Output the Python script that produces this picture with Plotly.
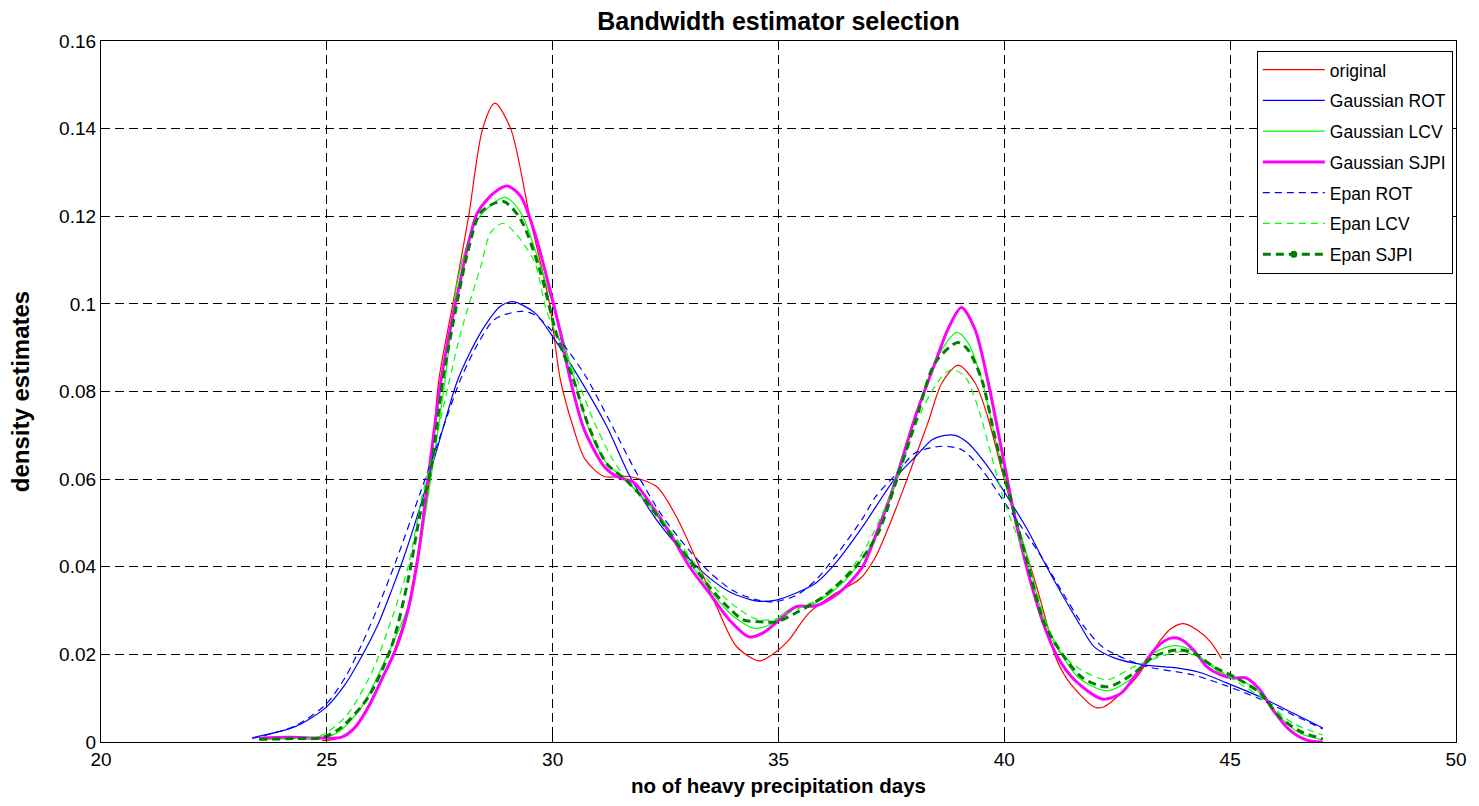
import plotly.graph_objects as go

# --- density estimates: x = number of heavy precipitation days ---
orig_x = [24.9, 25.3, 25.6, 25.9, 26.2, 26.5, 26.8, 27.0, 27.3, 27.48, 27.79, 28.14, 28.45, 28.72, 29.07,
          29.49, 29.93, 30.17, 30.45, 30.72, 31.14, 31.7, 32.3, 32.74, 33.18, 33.63, 34.07, 34.57,
          34.95, 35.23, 35.67, 36.27, 36.8, 37.15, 37.59, 38.03, 38.31, 38.62, 38.98, 39.35, 39.63,
          39.94, 40.23, 40.67, 40.96, 41.1, 41.4, 41.99, 42.2, 42.5, 42.94, 43.46, 43.68, 43.97,
          44.26, 44.56, 44.81]
orig_y = [0.0003, 0.001, 0.003, 0.008, 0.014, 0.021, 0.031, 0.042, 0.062, 0.0827, 0.1, 0.12, 0.14,
          0.1458, 0.14, 0.12, 0.1, 0.0827, 0.072, 0.0645, 0.0606, 0.0606, 0.0583, 0.0514, 0.0416,
          0.0309, 0.0218, 0.0185, 0.0206, 0.0233, 0.0294, 0.034, 0.0372, 0.0423, 0.053, 0.0651,
          0.0729, 0.082, 0.086, 0.082, 0.0743, 0.0622, 0.0514, 0.037, 0.0263, 0.0203, 0.0142, 0.008,
          0.008, 0.0103, 0.0149, 0.0233, 0.0258, 0.027, 0.0256, 0.0229, 0.019]

gauss_rot_x = [23.35, 24.3, 24.97, 25.41, 25.77, 26.14, 26.43, 26.74, 27.09, 27.5, 27.9, 28.41, 28.85,
               29.11, 29.6, 30.04, 30.61, 31.2, 31.71, 32.3, 32.9, 33.34, 33.91, 34.5, 34.95, 35.39,
               35.83, 36.27, 36.86, 37.59, 38.03, 38.4, 38.69, 38.91, 39.19, 39.63, 40.01, 40.51,
               40.89, 41.26, 41.7, 41.99, 42.43, 43.09, 43.82, 44.35, 44.92, 45.66, 46.39, 47.05]
gauss_rot_y = [0.001, 0.0035, 0.0078, 0.0132, 0.0195, 0.027, 0.0345, 0.0432, 0.0545, 0.069, 0.0827,
               0.0935, 0.0995, 0.1005, 0.098, 0.0919, 0.0827, 0.072, 0.0606, 0.0507, 0.0432, 0.0386,
               0.0343, 0.0322, 0.0324, 0.034, 0.0363, 0.0409, 0.0491, 0.0603, 0.0651, 0.069, 0.07, 0.07,
               0.0683, 0.0629, 0.0569, 0.0485, 0.0409, 0.034, 0.0263, 0.0217, 0.0192, 0.0176, 0.0169,
               0.0158, 0.0135, 0.0103, 0.0066, 0.0032]

gauss_lcv_x = [23.5, 24.3, 24.9, 25.26, 25.77, 26.36, 26.8, 27.09, 27.3, 27.62, 27.9, 28.34, 28.94,
               29.29, 29.73, 30.17, 30.48, 30.8, 31.2, 31.6, 32.1, 32.6, 33.1, 33.5, 33.91, 34.44,
               34.79, 35.23, 35.83, 36.49, 37.21, 37.59, 38.18, 38.62, 38.95, 39.19, 39.5, 39.79,
               40.07, 40.51, 40.89, 41.62, 42.28, 42.87, 43.31, 43.75, 44.13, 44.41, 44.79, 45.22,
               45.66, 46.1, 46.54, 47.05]
gauss_lcv_y = [0.0006, 0.0008, 0.0009, 0.0023, 0.008, 0.0203, 0.0309, 0.0462, 0.06, 0.0827, 0.1056,
               0.1193, 0.1243, 0.1209, 0.1086, 0.0942, 0.0827, 0.0715, 0.0635, 0.06, 0.0545, 0.0475,
               0.04, 0.0345, 0.0295, 0.026, 0.0267, 0.0302, 0.0318, 0.037, 0.0478, 0.0605, 0.0789,
               0.0896, 0.0935, 0.0912, 0.0827, 0.0697, 0.0576, 0.0423, 0.0279, 0.0149, 0.0117, 0.0149,
               0.0203, 0.022, 0.021, 0.0187, 0.0158, 0.0142, 0.0112, 0.0057, 0.002, 0.0005]

gauss_sjpi_x = [23.5, 24.16, 24.89, 25.33, 25.63, 25.92, 26.21, 26.52, 26.8, 27.02, 27.24, 27.53, 27.9,
                28.34, 28.72, 29.0, 29.29, 29.6, 29.88, 30.17, 30.39, 30.7, 31.14, 31.42, 31.8, 32.15,
                32.59, 33.03, 33.47, 33.91, 34.35, 34.66, 35.1, 35.39, 35.83, 36.33, 36.86, 37.2,
                37.59, 38.03, 38.47, 38.75, 39.05, 39.35, 39.63, 39.94, 40.23, 40.51, 40.89, 41.18,
                41.55, 42.17, 42.58, 42.94, 43.38, 43.68, 43.9, 44.19, 44.48, 44.79, 45.07, 45.36,
                45.66, 45.95, 46.32, 46.68, 47.05]
gauss_sjpi_y = [0.0009, 0.0011, 0.0009, 0.0011, 0.0034, 0.008, 0.0142, 0.021, 0.0302, 0.0423, 0.06,
                0.0827, 0.1026, 0.1209, 0.1255, 0.1269, 0.1246, 0.1163, 0.1056, 0.0935, 0.0827, 0.0713,
                0.0629, 0.0606, 0.0592, 0.0546, 0.0478, 0.04, 0.034, 0.0279, 0.024, 0.0249, 0.0286,
                0.0309, 0.0311, 0.034, 0.04, 0.0485, 0.0595, 0.0743, 0.0866, 0.0942, 0.0992, 0.0942,
                0.0827, 0.0667, 0.0514, 0.0393, 0.0263, 0.0194, 0.0142, 0.0098, 0.0111, 0.0157, 0.0217,
                0.0237, 0.0235, 0.021, 0.0172, 0.0153, 0.0146, 0.0146, 0.0119, 0.0073, 0.0027, 0.0005,
                0.0]

epan_rot_x = [23.35, 24.3, 24.97, 25.41, 25.77, 26.14, 26.52, 27.09, 27.5, 27.97, 28.35, 28.72, 29.29,
              29.6, 30.1, 30.7, 31.25, 31.8, 32.4, 33.0, 33.5, 34.0, 34.5, 34.9, 35.4, 35.83, 36.27,
              36.86, 37.15, 37.59, 38.03, 38.62, 39.06, 39.5, 40.01, 40.82, 41.18, 41.77, 42.2, 43.09,
              44.19, 44.92, 45.66, 46.39, 47.05]
epan_rot_y = [0.0008, 0.0037, 0.0085, 0.0148, 0.0222, 0.031, 0.041, 0.0575, 0.0695, 0.083, 0.091,
              0.0965, 0.0983, 0.0975, 0.0925, 0.084, 0.0735, 0.0625, 0.052, 0.044, 0.0385, 0.0345,
              0.0325, 0.032, 0.0335, 0.037, 0.0425, 0.051, 0.056, 0.061, 0.066, 0.0675, 0.0667,
              0.0622, 0.0546, 0.0423, 0.036, 0.0263, 0.0215, 0.0174, 0.0153, 0.0128, 0.0098, 0.0062,
              0.003]

epan_lcv_x = [23.5, 24.3, 24.82, 25.41, 25.99, 26.43, 26.8, 27.09, 27.3, 27.68, 27.98, 28.41, 28.63,
              28.9, 29.16, 29.6, 29.88, 30.48, 30.9, 31.3, 31.7, 32.2, 32.7, 33.2, 33.7, 34.1, 34.5,
              34.88, 35.23, 36.11, 36.86, 37.59, 38.18, 38.62, 38.84, 39.13, 39.41, 39.72, 40.01,
              40.51, 40.96, 41.18, 41.7, 42.28, 42.87, 43.46, 43.9, 44.35, 44.92, 45.66, 46.39, 47.05]
epan_lcv_y = [0.0006, 0.0008, 0.0012, 0.0057, 0.0158, 0.0279, 0.04, 0.0553, 0.064, 0.081, 0.094,
              0.1086, 0.1163, 0.1184, 0.1163, 0.1095, 0.098, 0.0843, 0.0735, 0.065, 0.059, 0.0535,
              0.047, 0.04, 0.034, 0.0305, 0.0281, 0.0279, 0.0295, 0.034, 0.0432, 0.059, 0.0759,
              0.0834, 0.085, 0.0834, 0.0766, 0.0651, 0.0546, 0.0409, 0.0263, 0.021, 0.0165, 0.0142,
              0.0172, 0.0195, 0.0206, 0.0192, 0.0153, 0.0103, 0.0043, 0.0016]

epan_sjpi_x = [23.5, 24.3, 24.9, 25.33, 25.92, 26.43, 26.8, 27.07, 27.3, 27.57, 27.84, 28.12, 28.41,
               28.9, 29.29, 29.73, 30.1, 30.45, 30.8, 31.2, 31.6, 32.1, 32.6, 33.1, 33.5, 33.91, 34.22,
               34.66, 34.95, 35.39, 35.98, 36.71, 37.21, 37.59, 38.03, 38.47, 38.97, 39.19, 39.5,
               39.79, 40.16, 40.51, 40.92, 41.7, 42.28, 42.87, 43.31, 43.82, 44.19, 44.63, 45.14,
               45.66, 46.1, 46.54, 47.05]
epan_sjpi_y = [0.0006, 0.0008, 0.001, 0.0034, 0.0103, 0.0217, 0.037, 0.0523, 0.062, 0.0827, 0.098,
               0.1118, 0.1209, 0.1234, 0.1193, 0.1072, 0.0926, 0.083, 0.072, 0.0635, 0.06, 0.0545,
               0.0475, 0.0405, 0.035, 0.0305, 0.0279, 0.0274, 0.0274, 0.0295, 0.0331, 0.04, 0.0478,
               0.059, 0.073, 0.0866, 0.0912, 0.0896, 0.0827, 0.0697, 0.0546, 0.0409, 0.0263, 0.0149,
               0.0126, 0.0157, 0.0195, 0.021, 0.0203, 0.0172, 0.0146, 0.0112, 0.0057, 0.0025, 0.0007]

y_ticks = [0, 0.02, 0.04, 0.06, 0.08, 0.1, 0.12, 0.14, 0.16]
y_tick_text = ["0", "0.02", "0.04", "0.06", "0.08", "0.1", "0.12", "0.14", "0.16"]
x_ticks = [20, 25, 30, 35, 40, 45, 50]

FONT = "Arial, Liberation Sans, sans-serif"

series = [
    ("original", orig_x, orig_y, "#FF0000", 1.2, "solid"),
    ("Gaussian ROT", gauss_rot_x, gauss_rot_y, "#0000FF", 1.2, "solid"),
    ("Gaussian LCV", gauss_lcv_x, gauss_lcv_y, "#00FF00", 1.2, "solid"),
    ("Gaussian SJPI", gauss_sjpi_x, gauss_sjpi_y, "#FF00FF", 3, "solid"),
    ("Epan ROT", epan_rot_x, epan_rot_y, "#0000FF", 1.2, "7px,5px"),
    ("Epan LCV", epan_lcv_x, epan_lcv_y, "#00FF00", 1.2, "7px,5px"),
]

fig = go.Figure()
for name, xs, ys, color, width, dash in series:
    fig.add_trace(go.Scatter(
        x=xs, y=ys, name=name, mode="lines", legendgroup=name,
        line=dict(color=color, width=width, dash=dash, shape="spline", smoothing=0.8),
    ))

# Epan SJPI: thick dashed dark-green line, legend entry shows a dot marker
fig.add_trace(go.Scatter(
    x=epan_sjpi_x, y=epan_sjpi_y, name="Epan SJPI", mode="lines", legendgroup="Epan SJPI",
    showlegend=False,
    line=dict(color="#008000", width=3, dash="8px,5px", shape="spline", smoothing=0.8),
))
fig.add_trace(go.Scatter(
    x=[None], y=[None], name="Epan SJPI", mode="lines+markers", legendgroup="Epan SJPI",
    line=dict(color="#008000", width=3, dash="8px,5px"),
    marker=dict(color="#008000", size=7),
))

axis_common = dict(
    showline=True, linecolor="black", linewidth=1.2, mirror="ticks",
    ticks="inside", ticklen=6, tickcolor="black", tickwidth=1,
    showgrid=True, gridcolor="black", gridwidth=1, griddash="9px,5px",
    zeroline=False, tickfont=dict(family=FONT, size=19, color="black"),
)

fig.update_layout(
    width=1479, height=806,
    paper_bgcolor="white", plot_bgcolor="white",
    margin=dict(l=101, r=15, t=41, b=64),
    title=dict(text="<b>Bandwidth estimator selection</b>", x=0.5, xref="paper",
               y=1 - 21 / 806, yref="container", yanchor="middle",
               font=dict(family=FONT, size=25, color="black")),
    xaxis=dict(range=[20, 50], tickvals=x_ticks,
               title=dict(text="<b>no of heavy precipitation days</b>", standoff=9,
                          font=dict(family=FONT, size=20.5, color="black")),
               **axis_common),
    yaxis=dict(range=[0, 0.16], tickvals=y_ticks, ticktext=y_tick_text,
               title=dict(text="<b>density estimates</b>", standoff=22,
                          font=dict(family=FONT, size=24, color="black")),
               **axis_common),
    legend=dict(x=0.853, y=0.986, xanchor="left", yanchor="top",
                bgcolor="white", bordercolor="black", borderwidth=1,
                font=dict(family=FONT, size=17.5, color="black"),
                tracegroupgap=5, itemwidth=62),
    showlegend=True,
)

fig.write_html("out.html")
